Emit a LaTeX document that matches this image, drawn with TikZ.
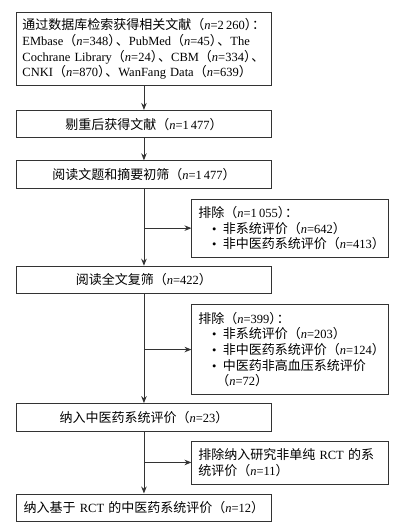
\documentclass[tikz,border=0pt]{standalone}
\usepackage{fontspec}
\setmainfont{Liberation Serif}
\newfontfamily\cjk[Scale=1.04]{Noto Sans CJK SC}
\usetikzlibrary{positioning,arrows.meta}

\newcommand{\zh}[1]{{\cjk #1}}
\newcommand{\nval}[1]{\zh{（}\textit{n}=#1\zh{）}}
\newcommand{\itm}{\hspace*{1.1em}\textbullet\nobreak\hspace{0.5em}\nobreak}

\begin{document}
\begin{tikzpicture}[
  x=1pt, y=1pt,
  font=\fontsize{12.5}{15.7}\selectfont,
  box/.style={
    draw=black!80,
    line width=0.9pt,
    align=center,
    minimum height=27.5pt,
    text width=243pt,
    inner xsep=6pt,
    inner ysep=3pt
  },
  exbox/.style={
    draw=black!80,
    line width=0.9pt,
    align=left,
    text width=184pt,
    inner xsep=6.5pt,
    inner ysep=3pt
  },
  arrow/.style={-{Stealth[length=7pt,width=5.5pt]}, line width=0.9pt, draw=black!80}
]
\useasboundingbox (0,0) rectangle (409,-522);
\node[box, align=left, minimum height=73pt, anchor=north west] (search) at (16,-12) {%
\zh{通过数据库检索获得相关文献}\nval{2\,260}\kern-.45em\zh{：}\\
EMbase\nval{348}\kern-.45em\zh{、}PubMed\nval{45}\kern-.45em\zh{、}The\\
Cochrane Library\nval{24}\kern-.45em\zh{、}CBM\nval{334}\kern-.45em\zh{、}\\
CNKI\nval{870}\kern-.45em\zh{、}WanFang Data\nval{639}};
\node[box, below right=24pt and 0pt of search.south west] (dedup) {\zh{剔重后获得文献}\nval{1\,477}};
\node[box, below right=22pt and 0pt of dedup.south west] (title) {\zh{阅读文题和摘要初筛}\nval{1\,477}};
\node[exbox, minimum height=58pt, below right=10pt and 47.5pt of title.south] (ex1) {%
\zh{排除}\nval{1\,055}\kern-.45em\zh{：}\\
\itm\zh{非系统评价}\nval{642}\\
\itm\zh{非中医药系统评价}\nval{413}};
\node[box, below right=77pt and 0pt of title.south west] (full) {\zh{阅读全文复筛}\nval{422}};
\node[exbox, minimum height=90pt, below right=10pt and 47.5pt of full.south] (ex2) {%
\zh{排除}\nval{399}\kern-.45em\zh{：}\\
\itm\zh{非系统评价}\nval{203}\\
\itm\zh{非中医药系统评价}\nval{124}\\
\itm\zh{中医药非高血压系统评价}\\
\hspace*{18pt}\nval{72}};
\node[box, below right=109pt and 0pt of full.south west] (incl) {\zh{纳入中医药系统评价}\nval{23}};
\node[exbox, minimum height=43pt, below right=9pt and 47.5pt of incl.south] (ex3) {%
\zh{排除纳入研究非单纯} RCT \zh{的系}\\
\zh{统评价}\nval{11}};
\node[box, below right=62pt and 0pt of incl.south west] (final) {\zh{纳入基于} RCT \zh{的中医药系统评价}\nval{12}};
\draw[arrow] (search) -- (dedup);
\draw[arrow] (dedup) -- (title);
\draw[arrow] (title) -- (full);
\draw[arrow] (title.south |- ex1.west) -- (ex1.west);
\draw[arrow] (full) -- (incl);
\draw[arrow] (full.south |- ex2.west) -- (ex2.west);
\draw[arrow] (incl) -- (final);
\draw[arrow] (incl.south |- ex3.west) -- (ex3.west);
\end{tikzpicture}
\end{document}
